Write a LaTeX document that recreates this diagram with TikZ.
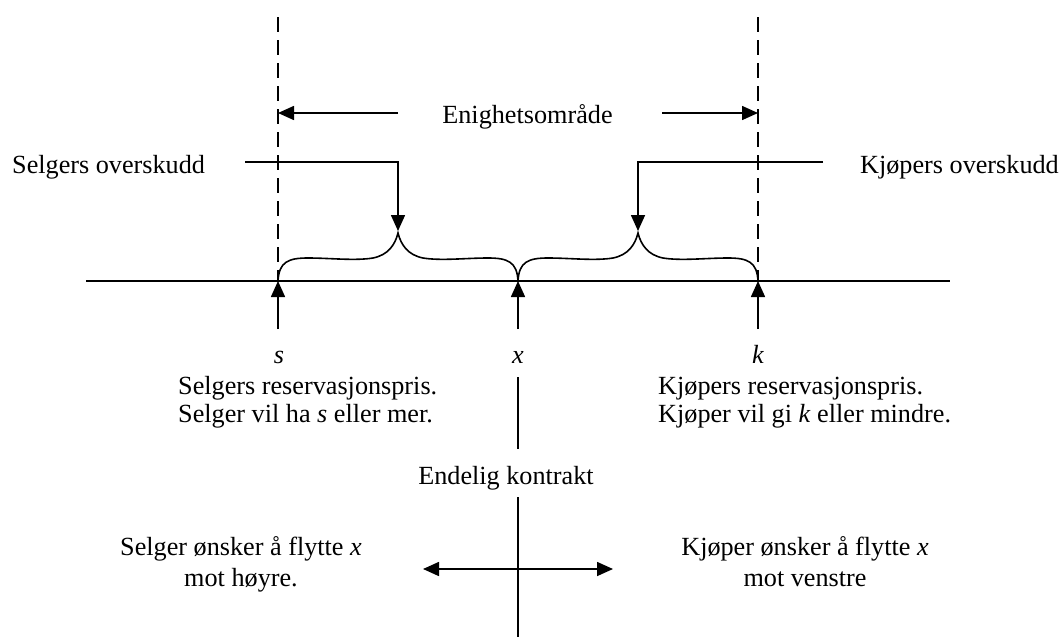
\documentclass[tikz,border=0pt]{standalone}
\usepackage{fontspec}
\setmainfont{Liberation Serif}
\usetikzlibrary{arrows.meta}
\begin{document}
\begin{tikzpicture}[x=1pt,y=-1pt,
  ln/.style={line width=1.6pt},
  arr/.style={ln,-{Triangle[length=16pt,width=14pt]}},
  darr/.style={ln,{Triangle[length=16pt,width=14pt]}-{Triangle[length=16pt,width=14pt]}},
  dsh/.style={line width=1.6pt,dash pattern=on 15pt off 8pt},
  lbl/.style={inner sep=0pt,font=\fontsize{26.2}{28}\selectfont},
  bracepic/.pic={
    \draw[ln] (0,0) .. controls (1,-19) and (10,-23) .. (30,-23)
      .. controls (52,-23) and (77,-20) .. (95,-23)
      .. controls (110,-26) and (117,-36) .. (120,-48)
      .. controls (123,-36) and (130,-26) .. (145,-23)
      .. controls (163,-20) and (188,-23) .. (210,-23)
      .. controls (230,-23) and (239,-19) .. (240,0);
  }]
\useasboundingbox (0,0) rectangle (1062,637);
% main axis
\coordinate (L) at (86,281);
\coordinate (R) at (950,281);
\coordinate (S) at (278,281);
\coordinate (X) at (518,281);
\coordinate (K) at (758,281);
\draw[ln] (L) -- (R);
% dashed borders
\coordinate (Stop) at (278,17);
\coordinate (Ktop) at (758,17);
\draw[dsh] (Stop) -- (S);
\draw[dsh] (Ktop) -- (K);
% braces
\pic at (S) {bracepic};
\pic at (X) {bracepic};
% Enighetsomraade
\node[lbl,anchor=base] (enig) at (527.5,123) {Enighetsområde};
\coordinate (e1) at (398,113);
\coordinate (e1t) at (278,113);
\coordinate (e2) at (662,113);
\coordinate (e2t) at (758,113);
\draw[arr] (e1) -- (e1t);
\draw[arr] (e2) -- (e2t);
% surplus labels
\node[lbl,anchor=base west] (selgov) at (12,173) {Selgers overskudd};
\node[lbl,anchor=base east] (kjopov) at (1059,173) {Kjøpers overskudd};
\coordinate (sl0) at (245,162);
\coordinate (sl1) at (398,162);
\coordinate (sl2) at (398,231);
\coordinate (kl0) at (823,162);
\coordinate (kl1) at (638,162);
\coordinate (kl2) at (638,231);
\draw[arr] (sl0) -- (sl1) -- (sl2);
\draw[arr] (kl0) -- (kl1) -- (kl2);
% upward arrows
\coordinate (Sb) at (278,329);
\coordinate (Xb) at (518,329);
\coordinate (Kb) at (758,329);
\draw[arr] (Sb) -- (S);
\draw[arr] (Xb) -- (X);
\draw[arr] (Kb) -- (K);
% point labels
\node[lbl,anchor=base] (ls) at (279,363) {\textit{s}};
\node[lbl,anchor=base] (lx) at (518,363) {\textit{x}};
\node[lbl,anchor=base] (lk) at (758,363) {\textit{k}};
\node[lbl,anchor=base west] (sr1) at (178,394) {Selgers reservasjonspris.};
\node[lbl,anchor=base west] (sr2) at (178,422) {Selger vil ha \textit{s} eller mer.};
\node[lbl,anchor=base west] (kr1) at (658,394) {Kjøpers reservasjonspris.};
\node[lbl,anchor=base west] (kr2) at (658,422) {Kjøper vil gi \textit{k} eller mindre.};
% final contract
\coordinate (v1) at (518,377);
\coordinate (v2) at (518,449);
\draw[ln] (v1) -- (v2);
\node[lbl,anchor=base] (endk) at (506,484) {Endelig kontrakt};
\coordinate (v3) at (518,497);
\coordinate (v4) at (518,637);
\draw[ln] (v3) -- (v4);
\coordinate (dl) at (423,569);
\coordinate (dr) at (613,569);
\draw[darr] (dl) -- (dr);
\node[lbl,anchor=base] (so1) at (241,555) {Selger ønsker å flytte \textit{x}};
\node[lbl,anchor=base] (so2) at (241,586) {mot høyre.};
\node[lbl,anchor=base] (ko1) at (805,555) {Kjøper ønsker å flytte \textit{x}};
\node[lbl,anchor=base] (ko2) at (805,586) {mot venstre};
\end{tikzpicture}
\end{document}
